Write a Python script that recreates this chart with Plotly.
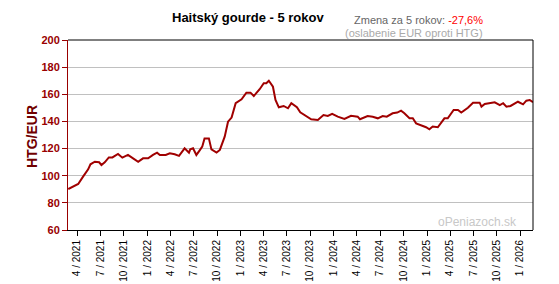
import plotly.graph_objects as go

dates = [
    "2021-02-25", "2021-03-23", "2021-04-05", "2021-04-24", "2021-05-14", "2021-05-23",
    "2021-06-09", "2021-06-26", "2021-07-05", "2021-07-18", "2021-08-03", "2021-08-17",
    "2021-09-08", "2021-09-25", "2021-10-17", "2021-11-06", "2021-11-26", "2021-12-15",
    "2022-01-04", "2022-01-23", "2022-02-08", "2022-02-19", "2022-03-14", "2022-03-30",
    "2022-04-18", "2022-05-05", "2022-05-27", "2022-06-13", "2022-06-18", "2022-06-29",
    "2022-07-12", "2022-07-25", "2022-08-04", "2022-08-13", "2022-08-30", "2022-09-09",
    "2022-09-29", "2022-10-12", "2022-10-31", "2022-11-13", "2022-11-27", "2022-12-13",
    "2023-01-05", "2023-01-24", "2023-02-09", "2023-02-22", "2023-03-17", "2023-04-02",
    "2023-04-12", "2023-04-22", "2023-05-08", "2023-05-18", "2023-05-31", "2023-06-19",
    "2023-07-06", "2023-07-19", "2023-08-10", "2023-08-23", "2023-09-02", "2023-10-05",
    "2023-10-31", "2023-11-22", "2023-12-09", "2023-12-26", "2024-01-17", "2024-02-12",
    "2024-03-09", "2024-04-04", "2024-04-13", "2024-05-13", "2024-06-02", "2024-06-22",
    "2024-07-11", "2024-07-27", "2024-08-19", "2024-09-06", "2024-09-21", "2024-10-04",
    "2024-10-24", "2024-11-06", "2024-11-19", "2024-12-09", "2024-12-28", "2025-01-10",
    "2025-01-23", "2025-02-12", "2025-02-25", "2025-03-10", "2025-03-23", "2025-04-15",
    "2025-05-02", "2025-05-15", "2025-06-10", "2025-06-30", "2025-07-26", "2025-08-02",
    "2025-08-15", "2025-09-23", "2025-10-13", "2025-10-26", "2025-11-08", "2025-11-24",
    "2025-12-23", "2026-01-12", "2026-01-25", "2026-02-07", "2026-02-20",
]
rates = [
    90.2, 92.6, 93.9, 99.3, 104.7, 108.4,
    110.3, 109.9, 107.9, 109.9, 113.5, 113.5,
    116.0, 113.3, 115.3, 112.8, 110.3, 112.8,
    112.8, 115.3, 117.0, 115.3, 115.3, 116.5,
    115.8, 114.6, 120.2, 117.0, 119.4, 120.2,
    115.3, 118.7, 121.4, 127.5, 127.5, 119.4,
    117.0, 119.0, 128.8, 139.8, 142.8, 153.4,
    156.3, 161.2, 161.2, 158.7, 163.7, 168.1,
    168.1, 170.0, 165.6, 155.8, 150.4, 151.4,
    149.7, 153.4, 150.4, 146.7, 145.5, 141.6,
    141.0, 144.7, 144.0, 145.5, 143.5, 141.8,
    144.2, 143.5, 141.6, 144.0, 143.5, 142.3,
    144.0, 143.5, 146.0, 146.5, 147.9, 146.0,
    142.3, 142.3, 138.6, 137.4, 135.7, 134.2,
    136.2, 135.7, 138.6, 142.3, 142.3, 148.4,
    148.4, 146.5, 150.1, 153.8, 153.8, 150.9,
    152.8, 154.1, 152.1, 153.4, 150.9, 151.4,
    154.5, 152.6, 155.3, 155.8, 154.1,
]

tick_dates = [
    "2021-04-01", "2021-07-01", "2021-10-01", "2022-01-01", "2022-04-01", "2022-07-01",
    "2022-10-01", "2023-01-01", "2023-04-01", "2023-07-01", "2023-10-01", "2024-01-01",
    "2024-04-01", "2024-07-01", "2024-10-01", "2025-01-01", "2025-04-01", "2025-07-01",
    "2025-10-01", "2026-01-01",
]
tick_labels = [
    "4 / 2021", "7 / 2021", "10 / 2021", "1 / 2022", "4 / 2022", "7 / 2022",
    "10 / 2022", "1 / 2023", "4 / 2023", "7 / 2023", "10 / 2023", "1 / 2024",
    "4 / 2024", "7 / 2024", "10 / 2024", "1 / 2025", "4 / 2025", "7 / 2025",
    "10 / 2025", "1 / 2026",
]
y_ticks = [60, 80, 100, 120, 140, 160, 180, 200]

DARK_RED = "#990000"
FONT = "Liberation Sans, Arial, sans-serif"

W, H = 559, 284
L, R, T, B = 68, 26, 40, 54
PW, PH = W - L - R, H - T - B


def px(x):
    return (x - L) / PW


def py(y):
    return (H - B - y) / PH


fig = go.Figure()
fig.add_trace(go.Scatter(
    x=dates, y=rates, mode="lines",
    line=dict(color="#a00000", width=2),
    hoverinfo="skip",
))

fig.update_layout(
    width=W, height=H,
    margin=dict(l=L, r=R, t=T, b=B),
    paper_bgcolor="white", plot_bgcolor="white",
    showlegend=False,
    font=dict(family=FONT),
    xaxis=dict(
        range=["2021-02-24", "2026-02-20"], automargin=False,
        tickmode="array", tickvals=tick_dates, ticktext=tick_labels,
        tickangle=-90, ticks="outside", ticklen=5, tickcolor="black",
        tickfont=dict(size=10, color="black", family=FONT),
        showgrid=False, showline=True, linecolor="black", linewidth=1,
        zeroline=False,
    ),
    yaxis=dict(
        range=[60, 200], tickmode="array", tickvals=y_ticks, automargin=False,
        ticks="outside", ticklen=5, tickcolor=DARK_RED,
        tickfont=dict(size=11, color=DARK_RED, family="Liberation Sans, Arial", weight="bold"),
        showgrid=True, gridcolor="#c0c0c0", gridwidth=1,
        showline=True, linecolor=DARK_RED, linewidth=1, zeroline=False,
    ),
    shapes=[
        dict(type="line", xref="paper", yref="paper", x0=0, x1=1, y0=1, y1=1,
             line=dict(color="black", width=1)),
        dict(type="line", xref="paper", yref="paper", x0=1, x1=1, y0=0, y1=1,
             line=dict(color="black", width=1)),
    ],
    annotations=[
        dict(text="<b>Haitský gourde - 5 rokov</b>", xref="paper", yref="paper",
             x=px(248), y=py(17), xanchor="center", yanchor="middle", showarrow=False,
             font=dict(size=13, color="black", family=FONT)),
        dict(text="Zmena za 5 rokov: <span style='color:#ff0000'>-27,6%</span>",
             xref="paper", yref="paper", x=px(485), y=py(20),
             xanchor="right", yanchor="middle", showarrow=False,
             font=dict(size=11, color="#666666", family=FONT)),
        dict(text="(oslabenie EUR oproti HTG)",
             xref="paper", yref="paper", x=px(485), y=py(33),
             xanchor="right", yanchor="middle", showarrow=False,
             font=dict(size=11, color="#aaaaaa", family=FONT)),
        dict(text="oPeniazoch.sk", xref="paper", yref="paper", x=px(519), y=py(222),
             xanchor="right", yanchor="middle", showarrow=False,
             font=dict(size=12, color="#c8c8c8", family=FONT)),
        dict(text="<b>HTG/EUR</b>", xref="paper", yref="paper", x=px(32), y=py(137),
             xanchor="center", yanchor="middle", showarrow=False, textangle=-90,
             font=dict(size=14, color="#700000", family=FONT)),
    ],
)

fig.write_html("out.html")
